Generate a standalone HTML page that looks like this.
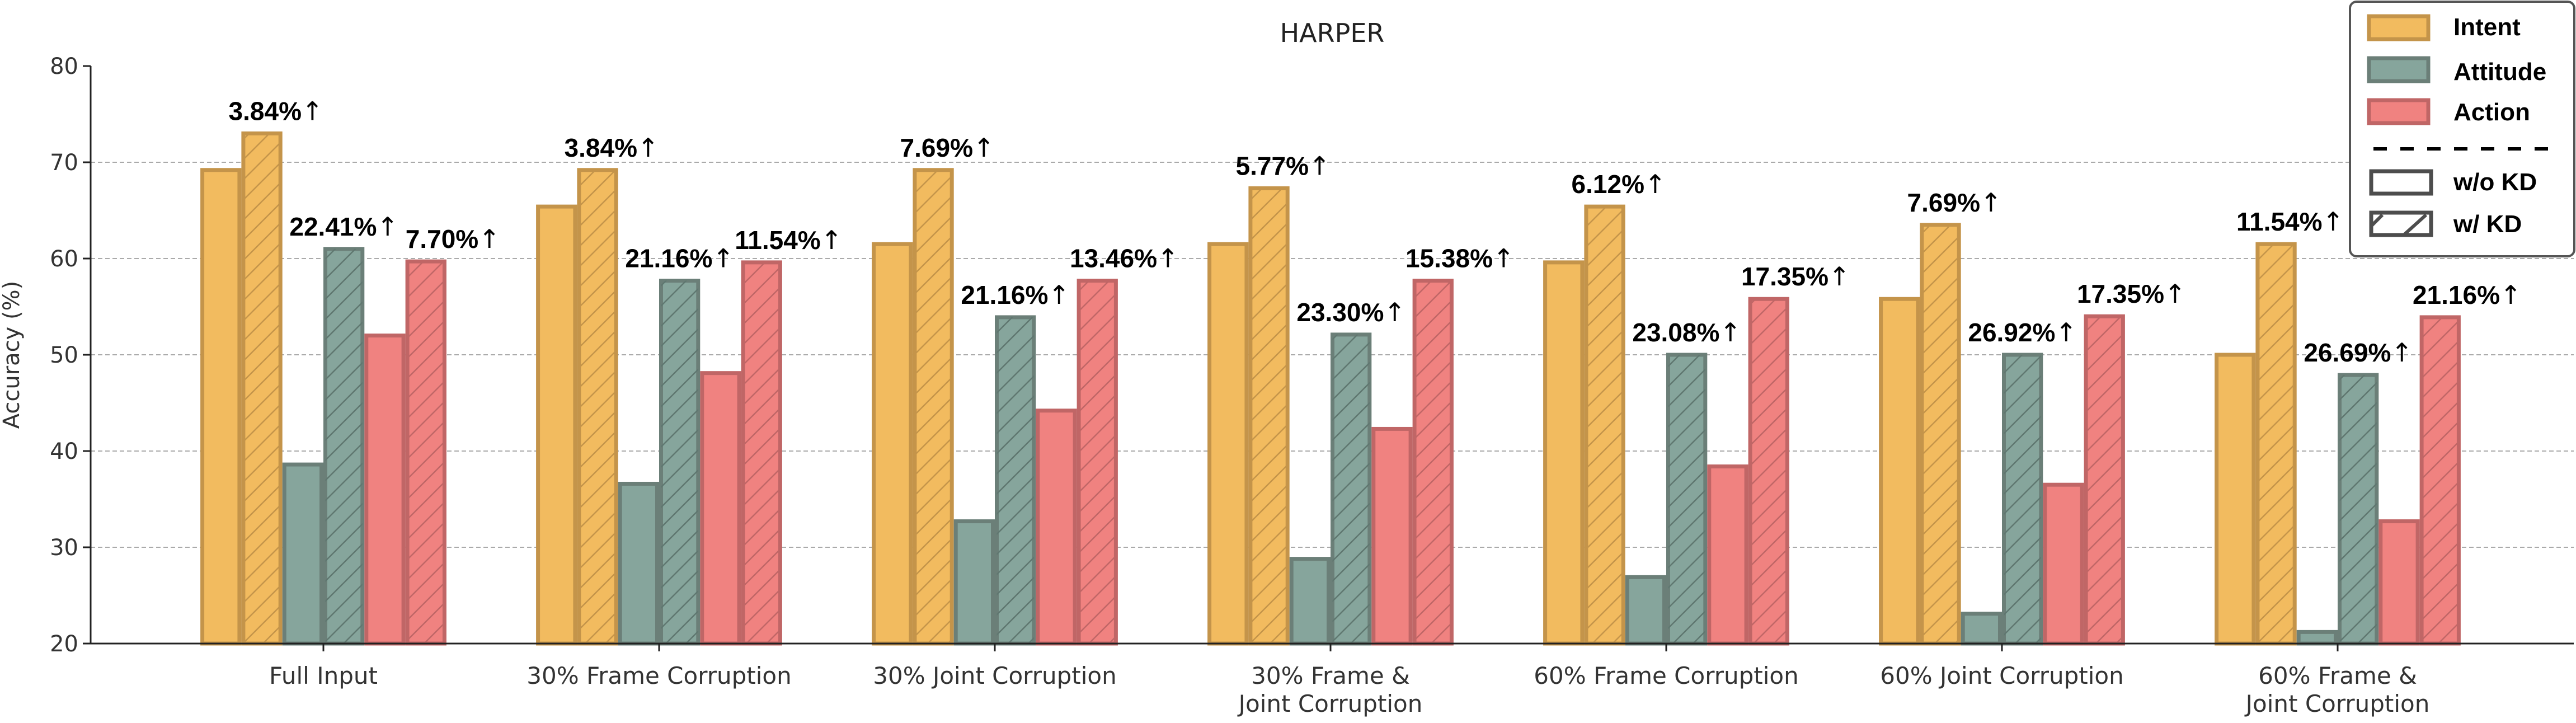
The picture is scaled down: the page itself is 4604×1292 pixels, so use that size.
<!DOCTYPE html>
<html><head><meta charset="utf-8"><style>
html,body{margin:0;padding:0;background:#fff}
svg{display:block}
</style></head><body>
<svg id="chart" width="4604" height="1292" viewBox="0 0 4604 1292" xmlns="http://www.w3.org/2000/svg">
<defs>
<pattern id="hatch-intent" patternUnits="userSpaceOnUse" width="36" height="36"><path d="M-9,9 L9,-9 M0,36 L36,0 M27,45 L45,27" stroke="#C4944A" stroke-width="2.5"/></pattern>
<pattern id="hatch-attitude" patternUnits="userSpaceOnUse" width="36" height="36"><path d="M-9,9 L9,-9 M0,36 L36,0 M27,45 L45,27" stroke="#5F7770" stroke-width="2.5"/></pattern>
<pattern id="hatch-action" patternUnits="userSpaceOnUse" width="36" height="36"><path d="M-9,9 L9,-9 M0,36 L36,0 M27,45 L45,27" stroke="#C06666" stroke-width="2.5"/></pattern>
</defs>
<g id="grid"></g>
<g id="bars"></g>
<g id="axes"></g>
<g id="labels"></g>
<text x="2381" y="75" text-anchor="middle" font-family="DejaVu Sans, sans-serif" font-size="46" fill="#222">HARPER</text>
<text transform="translate(34,634) rotate(-90)" text-anchor="middle" font-family="DejaVu Sans, sans-serif" font-size="40" fill="#333">Accuracy (%)</text>
<g>
<rect x="4200" y="3" width="401" height="455" rx="12" fill="#fff" stroke="#555" stroke-width="4"/>
<rect x="4234" y="29" width="106" height="41" fill="#F2BB5F" stroke="#C4944A" stroke-width="7"/>
<text x="4385" y="63" font-family="Liberation Sans, sans-serif" font-weight="bold" font-size="44">Intent</text>
<rect x="4234" y="104" width="106" height="41" fill="#86A59C" stroke="#6B7F78" stroke-width="7"/>
<text x="4385" y="143" font-family="Liberation Sans, sans-serif" font-weight="bold" font-size="44">Attitude</text>
<rect x="4234" y="179" width="106" height="41" fill="#F08280" stroke="#C06666" stroke-width="7"/>
<text x="4385" y="215" font-family="Liberation Sans, sans-serif" font-weight="bold" font-size="44">Action</text>
<line x1="4242" y1="266" x2="4554" y2="266" stroke="#000" stroke-width="6" stroke-dasharray="24,24"/>
<rect x="4238" y="306" width="107" height="40" fill="#fff" stroke="#4d4d4d" stroke-width="7"/>
<text x="4385" y="340" font-family="Liberation Sans, sans-serif" font-weight="bold" font-size="44">w/o KD</text>
<rect x="4238" y="380" width="107" height="40" fill="#fff" stroke="#4d4d4d" stroke-width="7"/>
<path d="M4238,404 L4258,384 M4296,420 L4336,384" stroke="#4d4d4d" stroke-width="6"/>
<text x="4385" y="415" font-family="Liberation Sans, sans-serif" font-weight="bold" font-size="44">w/ KD</text>
</g>
</svg>
<script>
const categories = ["Full Input","30% Frame Corruption","30% Joint Corruption","30% Frame &\nJoint Corruption","60% Frame Corruption","60% Joint Corruption","60% Frame &\nJoint Corruption"];
const intentNoKD = [69.2,65.4,61.5,61.5,59.6,55.8,50.0];
const intentKD = [73.0,69.2,69.2,67.3,65.4,63.5,61.5];
const attitudeNoKD = [38.6,36.6,32.7,28.8,26.9,23.1,21.2];
const attitudeKD = [61.0,57.7,53.9,52.1,50.0,50.0,47.9];
const actionNoKD = [52.0,48.1,44.2,42.3,38.4,36.5,32.7];
const actionKD = [59.7,59.6,57.7,57.7,55.8,54.0,53.9];
const intentGain = ["3.84%","3.84%","7.69%","5.77%","6.12%","7.69%","11.54%"];
const attitudeGain = ["22.41%","21.16%","21.16%","23.30%","23.08%","26.92%","26.69%"];
const actionGain = ["7.70%","11.54%","13.46%","15.38%","17.35%","17.35%","21.16%"];
const yTicks = [20,30,40,50,60,70,80];

const NS="http://www.w3.org/2000/svg";
const x0=162, x1=4600, yTop=118, yBot=1150, yMin=20, yMax=80;
const groupStart=578, groupStep=600, barW=73.3;
function yScale(v){return yBot-(v-yMin)/(yMax-yMin)*(yBot-yTop);}
function xGroup(i){return groupStart+i*groupStep;}
function xBar(i,k){return xGroup(i)-3*barW+k*barW;}
function mk(tag,attrs,parent){const e=document.createElementNS(NS,tag);for(const k in attrs)e.setAttribute(k,attrs[k]);parent.appendChild(e);return e;}

const grid=document.getElementById('grid'),bars=document.getElementById('bars'),axes=document.getElementById('axes'),labels=document.getElementById('labels');

yTicks.forEach(t=>{
  const y=yScale(t);
  if(t>yMin&&t<yMax){
    const g=mk('line',{x1:x0,x2:x1,y1:y,y2:y,stroke:'#aaa','stroke-width':2,'stroke-dasharray':'8,5'},grid);
    
    
  }
  const tk=mk('line',{x1:x0-14,x2:x0,y1:y,y2:y,stroke:'#222','stroke-width':3},axes);
  
  
  const tl=mk('text',{x:x0-22,y:y+14,'text-anchor':'end','font-family':'DejaVu Sans, sans-serif','font-size':40,fill:'#333'},axes);
  tl.textContent=t;
  
  
});
const ya=mk('line',{x1:x0,x2:x0,y1:yTop,y2:yBot,stroke:'#222','stroke-width':3},axes);


const xa=mk('line',{x1:x0,x2:x1,y1:yBot,y2:yBot,stroke:'#222','stroke-width':3},axes);



const series=[
 {vals:intentNoKD,fill:'#F2BB5F',stroke:'#C4944A',hatch:null,name:'intent-no-kd'},
 {vals:intentKD,fill:'#F2BB5F',stroke:'#C4944A',hatch:'hatch-intent',name:'intent-kd'},
 {vals:attitudeNoKD,fill:'#86A59C',stroke:'#6B7F78',hatch:null,name:'attitude-no-kd'},
 {vals:attitudeKD,fill:'#86A59C',stroke:'#6B7F78',hatch:'hatch-attitude',name:'attitude-kd'},
 {vals:actionNoKD,fill:'#F08280',stroke:'#C06666',hatch:null,name:'action-no-kd'},
 {vals:actionKD,fill:'#F08280',stroke:'#C06666',hatch:'hatch-action',name:'action-kd'}
];
categories.forEach((c,i)=>{
  series.forEach((s,k)=>{
    const y=yScale(s.vals[i]);
    const r=mk('rect',{x:xBar(i,k)+3.5,y:y,width:barW-7,height:yBot-y,fill:s.fill,stroke:s.stroke,'stroke-width':7},bars);
    
    
    if(s.hatch){
      const h=mk('rect',{x:xBar(i,k)+3.5,y:y,width:barW-7,height:yBot-y,fill:'url(#'+s.hatch+')'},bars);
      
      
    }
  });
  const cx=xGroup(i);
  const t=mk('line',{x1:cx,x2:cx,y1:yBot,y2:yBot+14,stroke:'#222','stroke-width':3},axes);
  
  
  const lines=c.split('\n');
  lines.forEach((ln,j)=>{
    const tx=mk('text',{x:cx,y:1222+j*50,'text-anchor':'middle','font-family':'DejaVu Sans, sans-serif','font-size':42,fill:'#333'},axes);
    tx.textContent=ln;
    
    
  });
  const ann=[
    {txt:intentGain[i],x:xBar(i,1)+barW/2+25,v:intentKD[i],n:'intent'},
    {txt:attitudeGain[i],x:xBar(i,3)+barW/2,v:attitudeKD[i],n:'attitude'},
    {txt:actionGain[i],x:xBar(i,5)+barW/2+48,v:actionKD[i],n:'action'}
  ];
  ann.forEach(a=>{
    const tx=mk('text',{x:a.x,y:yScale(a.v)-24,'text-anchor':'middle','font-family':'Liberation Sans, sans-serif','font-weight':'bold','font-size':46,fill:'#000'},labels);
    tx.textContent=a.txt;
    const ar=mk('tspan',{'font-family':'DejaVu Sans, sans-serif','font-weight':'normal'},tx);
    ar.textContent='↑';
    
    
  });
});
</script>
</body></html>
